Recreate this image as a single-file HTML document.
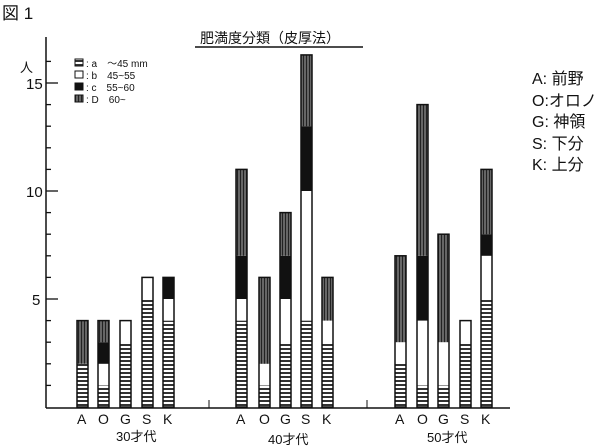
<!DOCTYPE html><html><head><meta charset="utf-8"><style>body{margin:0;background:#fff}svg{display:block}text{font-family:"Liberation Sans","Noto Sans CJK JP",sans-serif;fill:#111}</style></head><body>
<svg id="s" width="600" height="446" viewBox="0 0 600 446">
<defs>
<pattern id="pa" width="4" height="4" patternUnits="userSpaceOnUse"><rect width="4" height="4" fill="#fff"/><rect width="4" height="2" fill="#333"/></pattern>
<pattern id="pd" width="3" height="4" patternUnits="userSpaceOnUse"><rect width="3" height="4" fill="#666"/><rect width="1" height="4" fill="#222"/></pattern>
</defs>
<text x="2" y="19" font-size="17" font-family="Liberation Serif,Noto Serif CJK SC,serif">図 1</text>
<text x="200" y="43" font-size="14">肥満度分類（皮厚法）</text>
<line x1="195" y1="47" x2="363" y2="47" stroke="#111" stroke-width="1.5"/>
<line x1="46" y1="37" x2="46" y2="408" stroke="#111" stroke-width="1.5"/>
<line x1="46" y1="408" x2="510" y2="408" stroke="#111" stroke-width="1.5"/>
<line x1="209" y1="400" x2="209" y2="408" stroke="#111"/>
<line x1="367" y1="400" x2="367" y2="408" stroke="#111"/>
<text x="20" y="72" font-size="13">人</text>
<text x="26" y="89" font-size="15">15</text>
<text x="26" y="197" font-size="15">10</text>
<text x="32" y="305" font-size="15">5</text>
<g font-size="10">
<rect x="75" y="59" width="8" height="7" fill="url(#pa)" stroke="#111"/><text x="86" y="67">: a　～45 mm</text>
<rect x="75" y="71" width="8" height="7" fill="#fff" stroke="#111"/><text x="86" y="79">: b　45~55</text>
<rect x="75" y="83" width="8" height="7" fill="#111" stroke="#111"/><text x="86" y="91">: c　55~60</text>
<rect x="75" y="95" width="8" height="7" fill="url(#pd)" stroke="#111"/><text x="86" y="103">: D　60~</text>
</g>
<g font-size="16">
<text x="532" y="84">A: 前野</text>
<text x="532" y="106">O:オロノ</text>
<text x="532" y="127">G: 神領</text>
<text x="532" y="149">S: 下分</text>
<text x="532" y="170">K: 上分</text>
</g>
<g font-size="14">
<text x="77" y="424">A</text><text x="98" y="424">O</text><text x="120" y="424">G</text><text x="142" y="424">S</text><text x="163" y="424">K</text>
<text x="236" y="424">A</text><text x="259" y="424">O</text><text x="280" y="424">G</text><text x="301" y="424">S</text><text x="322" y="424">K</text>
<text x="395" y="424">A</text><text x="417" y="424">O</text><text x="438" y="424">G</text><text x="460" y="424">S</text><text x="481" y="424">K</text>
<text x="116" y="441" font-size="13">30才代</text>
<text x="268" y="444" font-size="13">40才代</text>
<text x="427" y="442" font-size="13">50才代</text>
</g>
<g id="bars"></g>
</svg>
<script>
var U=21.6,B=407,g=document.getElementById('bars'),h='';
for(var i=1;i<=16;i++){var y=B-i*U,l=i%5==0?12:5;h+='<line x1="46" y1="'+y+'" x2="'+(46+l)+'" y2="'+y+'" stroke="#111" stroke-width="1.3"/>';}
var d=[[77,[2,0,0,2]],[98,[1,1,1,1]],[120,[3,1,0,0]],[142,[5,1,0,0]],[163,[4,1,1,0]],
[236,[4,1,2,4]],[259,[1,1,0,4]],[280,[3,2,2,2]],[301,[4,6,3,3.3]],[322,[3,1,0,2]],
[395,[2,1,0,4]],[417,[1,3,3,7]],[438,[1,2,0,5]],[460,[3,1,0,0]],[481,[5,2,1,3]]];
var f=['url(#pa)','#fff','#111','url(#pd)'];
d.forEach(function(b){var y=B,t=0;b[1].forEach(function(v,k){if(!v)return;var hh=v*U;y-=hh;t+=v;h+='<rect x="'+b[0]+'" y="'+y+'" width="11" height="'+hh+'" fill="'+f[k]+'"/>';});
h+='<rect x="'+b[0]+'" y="'+(B-t*U)+'" width="11" height="'+(t*U)+'" fill="none" stroke="#111" stroke-width="1.5"/>';});
g.innerHTML=h;
</script>
</body></html>
